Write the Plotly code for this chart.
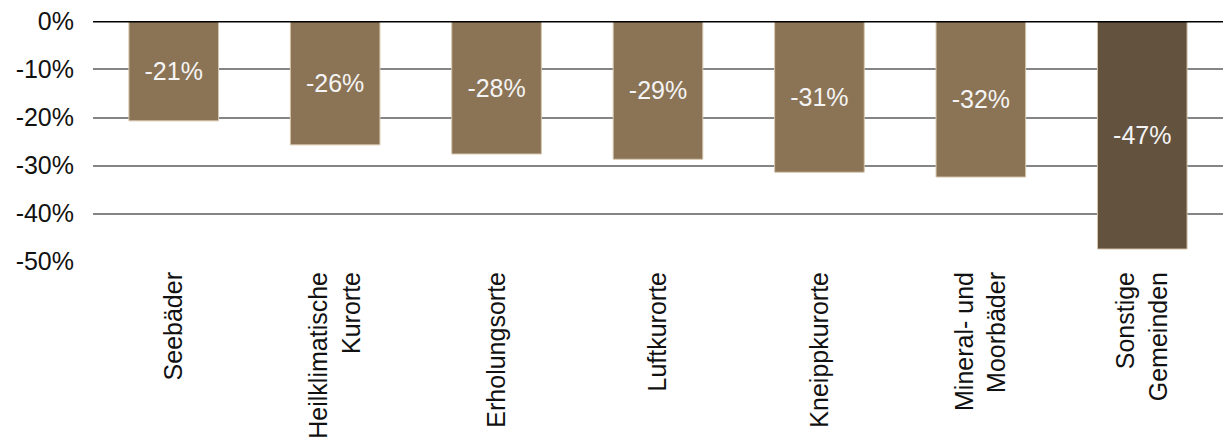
import plotly.graph_objects as go

categories = ["Seebäder", "Heilklimatische<br>Kurorte", "Erholungsorte", "Luftkurorte",
              "Kneippkurorte", "Mineral- und<br>Moorbäder", "Sonstige<br>Gemeinden"]
values = [-0.207, -0.257, -0.276, -0.287, -0.314, -0.324, -0.474]
colors = ["#8B7355"] * 6 + ["#63523E"]
y_ticks = [0, -0.1, -0.2, -0.3, -0.4, -0.5]
y_tick_labels = ["0%", "-10%", "-20%", "-30%", "-40%", "-50%"]

FONT = "Liberation Sans, Arial, sans-serif"

fig = go.Figure()
fig.add_trace(go.Bar(
    x=categories, y=values,
    marker=dict(color=colors, line=dict(color="#d6c6ad", width=1)),
    texttemplate="%{y:.0%}",
    textposition="inside",
    insidetextanchor="middle",
    textangle=0,
    textfont=dict(family=FONT, size=25, color="#f4f4f4"),
    hoverinfo="skip",
))

fig.add_shape(type="line", xref="paper", yref="y", x0=0, x1=1, y0=0, y1=0,
              line=dict(color="#000000", width=2), layer="above")

fig.update_layout(
    width=1223, height=446,
    margin=dict(l=93, r=0, t=21, b=184),
    paper_bgcolor="white", plot_bgcolor="white",
    bargap=0.445,
    showlegend=False,
    font=dict(family=FONT, size=25, color="#111111"),
)
fig.update_xaxes(
    tickangle=-90, showgrid=False, zeroline=False, showline=False,
    tickfont=dict(family=FONT, size=25, color="#111111"),
    ticks="", ticklabelstandoff=4,
)
fig.update_yaxes(
    range=[-0.501, 0.001], tickvals=y_ticks, ticktext=y_tick_labels,
    showgrid=True, gridcolor="#858585", gridwidth=2,
    zeroline=False, showline=False, ticks="",
    ticklabelstandoff=18,
    tickfont=dict(family=FONT, size=25, color="#111111"),
)

fig.write_html("out.html")
